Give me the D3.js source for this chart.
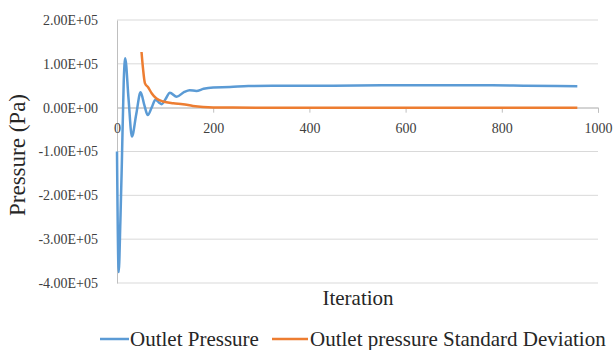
<!DOCTYPE html>
<html>
<head>
<meta charset="utf-8">
<script src="https://cdn.jsdelivr.net/npm/d3@7"></script>
<style>
  body { margin: 0; background: #fff; }
  svg { display: block; }
</style>
</head>
<body>
<div class="chart"></div>
<script>
// iteration / pressure (Pa)
const pressureIter = [0, 3.5, 7, 10, 14, 17, 24, 31, 40, 49, 57, 64, 72, 80, 87, 93, 101, 110, 124, 140, 151, 165, 180, 200, 235, 273, 350, 450, 550, 650, 780, 850, 957];
const pressureVal = [-1.0e5, -3.75e5, -2.6e5, -1.3e5, 0.6e5, 1.13e5, 0.2e5, -0.66e5, -0.15e5, 0.35e5, 0.05e5, -0.17e5, 0.0, 0.18e5, 0.12e5, 0.08e5, 0.2e5, 0.34e5, 0.25e5, 0.36e5, 0.40e5, 0.38e5, 0.43e5, 0.46e5, 0.47e5, 0.495e5, 0.50e5, 0.50e5, 0.51e5, 0.51e5, 0.51e5, 0.50e5, 0.49e5];

const stdIter = [51, 54, 58, 65, 72, 82, 96, 117, 137, 158, 179, 200, 240, 300, 500, 700, 957];
const stdVal = [1.27e5, 0.9e5, 0.56e5, 0.46e5, 0.33e5, 0.21e5, 0.14e5, 0.10e5, 0.08e5, 0.04e5, 0.016e5, 0.005e5, 0.001e5, 0, 0, 0, 0];

const xTicks = [0, 200, 400, 600, 800, 1000];
const yTicks = [2e5, 1e5, 0, -1e5, -2e5, -3e5, -4e5];
const seriesNames = ["Outlet Pressure", "Outlet pressure Standard Deviation"];
const colors = ["#5b9bd5", "#ed7d31"];

const W = 614, H = 350;
const margin = { top: 20, right: 16, bottom: 67, left: 117 };
const serif = "'Liberation Serif', 'Times New Roman', 'DejaVu Serif', serif";

const svg = d3.select(".chart").append("svg")
  .attr("width", W).attr("height", H)
  .style("font-family", serif);

const x = d3.scaleLinear().domain([0, 1000]).range([margin.left, W - margin.right]);
const y = d3.scaleLinear().domain([-4e5, 2e5]).range([H - margin.bottom, margin.top]);

const fmt = (v) => {
  const s = v.toExponential(2).replace("e", "E");
  return s.replace(/E([+-])(\d)$/, "E$10$2");
};

// gridlines
svg.append("g")
  .selectAll("line")
  .data(yTicks)
  .join("line")
  .attr("x1", x(0)).attr("x2", x(1000))
  .attr("y1", (d) => y(d)).attr("y2", (d) => y(d))
  .attr("stroke", "#d9d9d9").attr("stroke-width", 1);

// y axis
const yAxis = svg.append("g")
  .attr("transform", "translate(" + x(0) + ",0)")
  .call(d3.axisLeft(y).tickValues(yTicks).tickFormat(fmt).tickSize(0).tickPadding(19));
yAxis.attr("font-family", null).attr("font-size", 14);
yAxis.select(".domain").attr("stroke", "#bfbfbf");
yAxis.selectAll("text").attr("fill", "#404040").style("font-family", serif);

// x axis at zero
const xAxis = svg.append("g")
  .attr("transform", "translate(0," + y(0) + ")")
  .call(d3.axisBottom(x).tickValues(xTicks).tickSize(5).tickPadding(10).tickFormat(d3.format("d")));
xAxis.attr("font-family", null).attr("font-size", 14);
xAxis.select(".domain").attr("stroke", "#bfbfbf");
xAxis.selectAll(".tick line").attr("stroke", "#bfbfbf");
xAxis.selectAll("text").attr("fill", "#404040").style("font-family", serif);

// series
const line = d3.line().curve(d3.curveMonotoneX).x((d) => x(d[0])).y((d) => y(d[1]));

svg.append("path")
  .datum(d3.zip(pressureIter, pressureVal))
  .attr("d", line)
  .attr("fill", "none")
  .attr("stroke", colors[0])
  .attr("stroke-width", 2.5)
  .attr("stroke-linejoin", "round");

svg.append("path")
  .datum(d3.zip(stdIter, stdVal))
  .attr("d", line)
  .attr("fill", "none")
  .attr("stroke", colors[1])
  .attr("stroke-width", 2.5)
  .attr("stroke-linejoin", "round");

// axis titles
svg.append("text")
  .attr("transform", "translate(25,155) rotate(-90)")
  .attr("text-anchor", "middle")
  .attr("font-size", 23)
  .attr("fill", "#262626")
  .text("Pressure (Pa)");

svg.append("text")
  .attr("x", 358).attr("y", 305)
  .attr("text-anchor", "middle")
  .attr("font-size", 21)
  .attr("fill", "#262626")
  .text("Iteration");

// legend
const legendX = [100, 272];
const legend = svg.selectAll(".legend")
  .data(seriesNames)
  .join("g")
  .attr("class", "legend")
  .attr("transform", (d, i) => "translate(" + legendX[i] + ",339)");

legend.append("line")
  .attr("x1", 0).attr("x2", (d, i) => (i === 0 ? 29 : 36))
  .attr("stroke", (d, i) => colors[i])
  .attr("stroke-width", 2.5);

legend.append("text")
  .attr("x", (d, i) => (i === 0 ? 30 : 38))
  .attr("y", 7)
  .attr("font-size", 21)
  .attr("fill", "#262626")
  .text((d) => d);
</script>
</body>
</html>
